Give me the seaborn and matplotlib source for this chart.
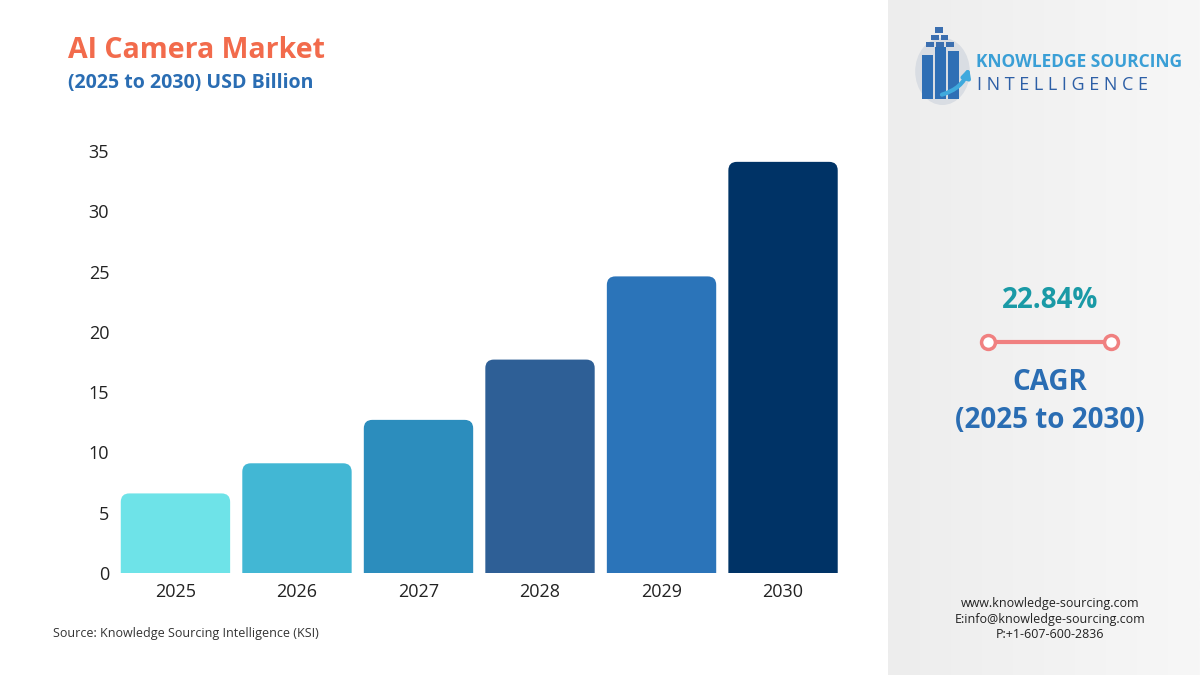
import matplotlib
matplotlib.use("Agg")
import matplotlib.pyplot as plt
import numpy as np
import pandas as pd
import seaborn as sns
from matplotlib.patches import FancyBboxPatch, Rectangle, Circle

# chart data
years = ["2025", "2026", "2027", "2028", "2029", "2030"]
market_size = [6.6, 9.1, 12.7, 17.7, 24.6, 34.1]
bar_colors = ["#6ee3e8", "#42b7d4", "#2c8dbd", "#2e5f96", "#2b74b9", "#003366"]
y_ticks = [0, 5, 10, 15, 20, 25, 30, 35]

cagr_value = "22.84%"
cagr_period = "(2025 to 2030)"
title = "AI Camera Market"
subtitle = "(2025 to 2030) USD Billion"
source = "Source: Knowledge Sourcing Intelligence (KSI)"
contacts = ["www.knowledge-sourcing.com", "E:info@knowledge-sourcing.com", "P:+1-607-600-2836"]

sns.set_theme(style="white")
plt.rcParams["font.family"] = ["Open Sans", "DejaVu Sans"]

df = pd.DataFrame({"year": years, "value": market_size})

fig = plt.figure(figsize=(12, 6.75), dpi=100)
fig.patch.set_facecolor("white")

# right side panel (light grey)
panel = fig.add_axes([888 / 1200, 0, 312 / 1200, 1])
panel.set_xlim(0, 1)
panel.set_ylim(0, 1)
grad = np.linspace(0, 1, 256).reshape(1, -1)
panel.imshow(grad, extent=[0, 1, 0, 1], aspect="auto",
             cmap=matplotlib.colors.LinearSegmentedColormap.from_list("g", ["#ededed", "#f7f7f7"]))
panel.axis("off")

# main bar chart
ax = fig.add_axes([114.7 / 1200, (675 - 573) / 675, (843.8 - 114.7) / 1200, (573 - 151) / 675])
sns.barplot(data=df, x="year", y="value", hue="year", palette=bar_colors,
            width=0.9, legend=False, ax=ax, saturation=1)
ax.set_xlim(-0.5, 5.5)
ax.set_ylim(0, 35)

# round the top corners of the bars; bottom corners sit below y=0 and get clipped
aspect = 121.5 / (422 / 35)
for p in list(ax.patches):
    x0, w, h = p.get_x(), p.get_width(), p.get_height()
    col = p.get_facecolor()
    p.set_visible(False)
    ax.add_patch(FancyBboxPatch((x0, -2), w, h + 2, boxstyle="round,pad=0,rounding_size=0.07",
                                mutation_aspect=aspect, fc=col, ec="none", lw=0))

ax.set_yticks(y_ticks)
ax.set_xlabel("")
ax.set_ylabel("")
ax.tick_params(axis="y", labelsize=13, pad=4, length=0, colors="#222222")
ax.tick_params(axis="x", labelsize=13, pad=7, length=0, colors="#222222")
sns.despine(ax=ax, left=True, bottom=True)
ax.set_facecolor("none")

# titles
fig.text(68 / 1200, 1 - 50 / 675, title, fontsize=20.5, fontweight="bold", color="#f26b4c", va="center")
fig.text(68 / 1200, 1 - 83 / 675, subtitle, fontsize=14, fontweight="bold", color="#2a6db3", va="center")
fig.text(53 / 1200, 1 - 634 / 675, source, fontsize=9, color="#333333", va="center")

# logo
logo = fig.add_axes([910 / 1200, 1 - 105 / 675, 65 / 1200, 80 / 675])
logo.set_xlim(0, 1)
logo.set_ylim(0, 1)
logo.axis("off")
logo.add_patch(Circle((0.5, 0.42), 0.42, fc="#d9dde3", ec="none"))
for i, hgt in enumerate([0.55, 0.65, 0.6]):
    logo.add_patch(Rectangle((0.18 + i * 0.2, 0.08), 0.18, hgt, fc="#2f6fb5", ec="none"))
for i in range(3):
    for j in range(3 - i):
        logo.add_patch(Rectangle((0.25 + j * 0.15 + i * 0.07, 0.72 + i * 0.09), 0.12, 0.07, fc="#3b6fb0", ec="none"))
logo.annotate("", xy=(0.92, 0.5), xytext=(0.45, 0.12),
              arrowprops=dict(arrowstyle="-|>", color="#3fa9dd", lw=3, connectionstyle="arc3,rad=0.3"))

fig.text(976 / 1200, 1 - 62 / 675, "KNOWLEDGE SOURCING", fontsize=12.5, fontweight="bold", color="#3a9fd6", va="center")
fig.text(977 / 1200, 1 - 85 / 675, "I N T E L L I G E N C E", fontsize=13, color="#2d5fa6", va="center")

# CAGR block
cx = 1050 / 1200
fig.text(cx, 1 - 300 / 675, cagr_value, fontsize=20, fontweight="bold", color="#1a9aa6", ha="center", va="center")
fig.add_artist(plt.Line2D([988 / 1200, 1111 / 1200], [1 - 342 / 675] * 2, color="#f08080", lw=3,
                          marker="o", markersize=10, markerfacecolor="white", markeredgewidth=2.5,
                          markeredgecolor="#f08080"))
fig.text(cx, 1 - 383 / 675, "CAGR", fontsize=20, fontweight="bold", color="#2a6db3", ha="center", va="center")
fig.text(cx, 1 - 420 / 675, cagr_period, fontsize=20, fontweight="bold", color="#2a6db3", ha="center", va="center")

for i, line in enumerate(contacts):
    fig.text(cx, 1 - (603 + i * 16) / 675, line, fontsize=9, color="#222222", ha="center", va="center")

fig.savefig("out.png", dpi=100)
